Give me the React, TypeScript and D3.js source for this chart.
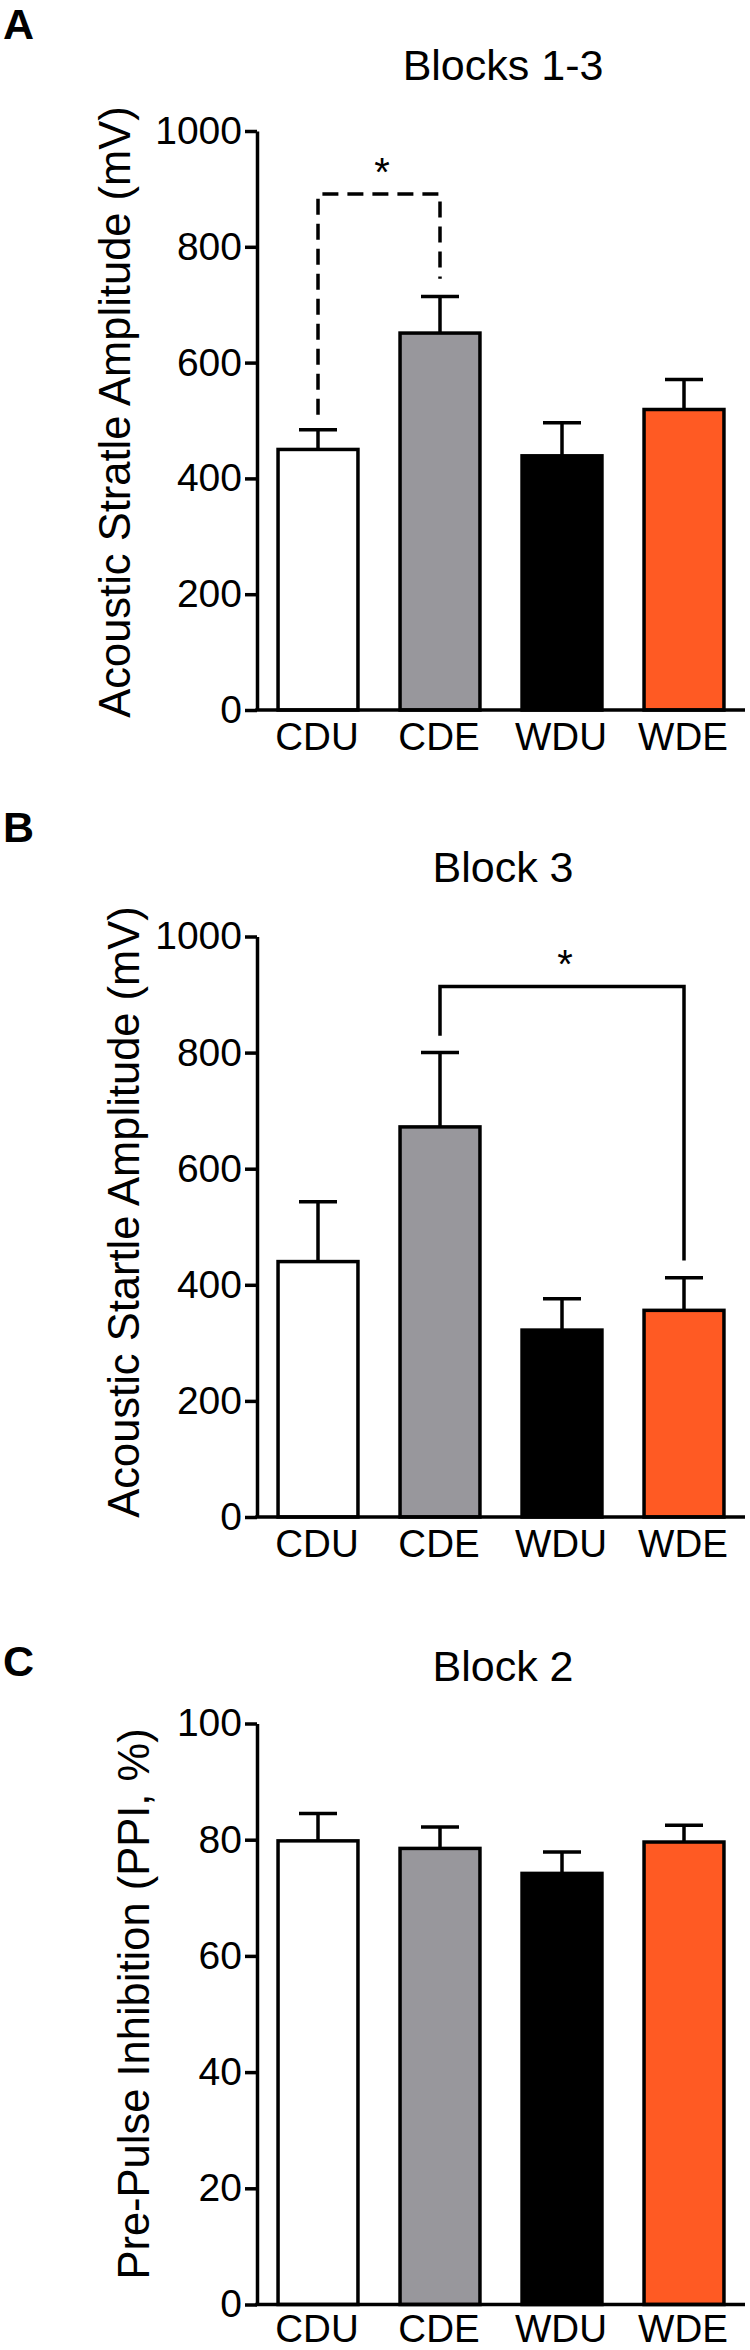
import React, { useEffect, useRef } from "react";
import * as d3 from "d3";

const categories = ["CDU", "CDE", "WDU", "WDE"];
const barColors = ["#ffffff", "#98979c", "#000000", "#ff5a23"];

// means and SEM
const blocks13Mean = [450, 651, 439, 519];
const blocks13Sem = [34, 63, 57, 52];
const block3Mean = [440, 672, 322, 356];
const block3Sem = [103, 128, 54, 56];
const block2Mean = [79.8, 78.5, 74.2, 79.6];
const block2Sem = [4.7, 3.7, 3.7, 2.9];

const startleTicks = [0, 200, 400, 600, 800, 1000];
const ppiTicks = [0, 20, 40, 60, 80, 100];

const FONT = "'Liberation Sans', Arial, Helvetica, sans-serif";

const panels = [
  {
    letter: "A", title: "Blocks 1-3", yLabel: "Acoustic Stratle Amplitude (mV)",
    mean: blocks13Mean, sem: blocks13Sem, ticks: startleTicks,
    top: 131, bottom: 710, letterY: 39, titleY: 80, labelX: 130, labelY: 412, xLabDy: 40,
    bracket: { from: "CDU", to: "CDE", fromVal: 510, topVal: 891, toVal: 745, dashed: true },
  },
  {
    letter: "B", title: "Block 3", yLabel: "Acoustic Startle Amplitude (mV)",
    mean: block3Mean, sem: block3Sem, ticks: startleTicks,
    top: 936.5, bottom: 1517, letterY: 842, titleY: 882, labelX: 139, labelY: 1212, xLabDy: 40,
    bracket: { from: "CDE", to: "WDE", fromVal: 829, topVal: 914, toVal: 442, dashed: false },
  },
  {
    letter: "C", title: "Block 2", yLabel: "Pre-Pulse Inhibition (PPI, %)",
    mean: block2Mean, sem: block2Sem, ticks: ppiTicks,
    top: 1723.5, bottom: 2304.5, letterY: 1676, titleY: 1681, labelX: 149, labelY: 2004, xLabDy: 37.5,
    bracket: null,
  },
];

const App = () => {
  const svgRef = useRef<SVGSVGElement>(null);

  useEffect(() => {
    const svg = d3.select(svgRef.current);
    svg.selectAll("*").remove();

    const x0 = 257;
    const x1 = 745;
    const sw = 3.5;

    const x = d3.scaleBand().domain(categories).range([x0, x1]).padding(0);
    const barW = x.bandwidth() * 0.655;
    const cx = (c: string) => (x(c) as number) + x.bandwidth() / 2;

    panels.forEach(p => {
      const g = svg.append("g");
      const maxV = p.ticks[p.ticks.length - 1];
      const y = d3.scaleLinear().domain([0, maxV]).range([p.bottom, p.top]);

      g.append("text")
        .attr("x", 3).attr("y", p.letterY)
        .style("font-family", FONT).style("font-weight", "bold").style("font-size", "43px")
        .text(p.letter);

      g.append("text")
        .attr("x", 503).attr("y", p.titleY)
        .attr("text-anchor", "middle")
        .style("font-family", FONT).style("font-size", "43px")
        .text(p.title);

      g.append("text")
        .attr("transform", `translate(${p.labelX}, ${p.labelY}) rotate(-90)`)
        .attr("text-anchor", "middle")
        .style("font-family", FONT).style("font-size", "43.5px")
        .text(p.yLabel);

      const rows = categories.map((c, i) => ({ c, mean: p.mean[i], sem: p.sem[i], fill: barColors[i] }));

      // upper error whiskers
      g.selectAll(".err")
        .data(rows)
        .join("line")
        .attr("x1", d => cx(d.c)).attr("x2", d => cx(d.c))
        .attr("y1", d => y(d.mean)).attr("y2", d => y(d.mean + d.sem))
        .attr("stroke", "#000").attr("stroke-width", sw);

      g.selectAll(".cap")
        .data(rows)
        .join("line")
        .attr("x1", d => cx(d.c) - 19).attr("x2", d => cx(d.c) + 19)
        .attr("y1", d => y(d.mean + d.sem)).attr("y2", d => y(d.mean + d.sem))
        .attr("stroke", "#000").attr("stroke-width", sw);

      g.selectAll(".bar")
        .data(rows)
        .join("rect")
        .attr("x", d => cx(d.c) - barW / 2)
        .attr("width", barW)
        .attr("y", d => y(d.mean))
        .attr("height", d => y(0) - y(d.mean))
        .attr("fill", d => d.fill)
        .attr("stroke", "#000").attr("stroke-width", sw);

      // y axis
      const yAxis = g.append("g")
        .attr("transform", `translate(${x0}, 0)`)
        .call(
          d3.axisLeft(y)
            .tickValues(p.ticks)
            .tickFormat(d3.format("d"))
            .tickSize(12)
            .tickSizeOuter(0)
            .tickPadding(3)
        );
      yAxis.selectAll("path, line").attr("stroke", "#000").attr("stroke-width", sw);
      yAxis.selectAll("text")
        .style("font-family", FONT).style("font-size", "39px").attr("fill", "#000");

      // x axis
      g.append("line")
        .attr("x1", x0 - sw / 2).attr("x2", x1)
        .attr("y1", y(0)).attr("y2", y(0))
        .attr("stroke", "#000").attr("stroke-width", sw);

      g.selectAll(".xlab")
        .data(categories)
        .join("text")
        .attr("x", d => cx(d) - 1)
        .attr("y", y(0) + p.xLabDy)
        .attr("text-anchor", "middle")
        .style("font-family", FONT).style("font-size", "38.5px")
        .text(d => d);

      if (p.bracket) {
        const b = p.bracket;
        const pts: [number, number][] = [
          [cx(b.from), y(b.fromVal)],
          [cx(b.from), y(b.topVal)],
          [cx(b.to), y(b.topVal)],
          [cx(b.to), y(b.toVal)],
        ];
        g.append("path")
          .attr("d", d3.line()(pts))
          .attr("fill", "none")
          .attr("stroke", "#000").attr("stroke-width", sw)
          .attr("stroke-dasharray", b.dashed ? "16 9" : null);

        g.append("text")
          .attr("x", (cx(b.from) + cx(b.to)) / 2 + 3)
          .attr("y", y(b.topVal) - 8)
          .attr("text-anchor", "middle")
          .style("font-family", FONT).style("font-size", "40px")
          .text("*");
      }
    });
  }, []);

  return (
    <svg
      ref={svgRef}
      width={750}
      height={2350}
      style={{ position: "absolute", left: 0, top: 0, background: "#fff" }}
    />
  );
};

export default App;
